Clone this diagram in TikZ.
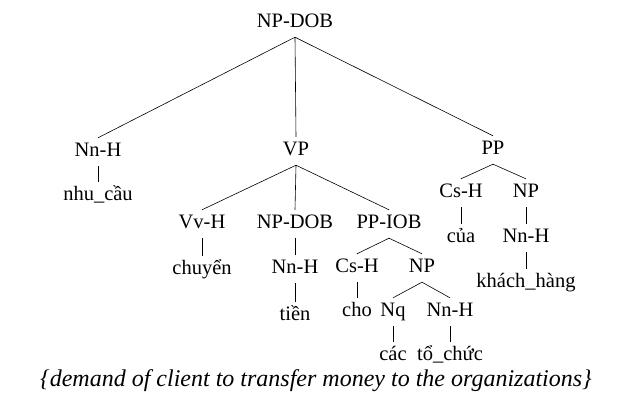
\documentclass[tikz,border=0pt]{standalone}
\usepackage{fontspec}
\setmainfont{Liberation Serif}
\begin{document}
\begin{tikzpicture}[x=1pt,y=-1pt,
  lbl/.style={anchor=base,text height=13pt,text depth=5pt,inner xsep=0pt,inner ysep=5pt,font=\fontsize{20.5}{24}\selectfont},
  edge/.style={draw=black,line width=0.6pt}]
\useasboundingbox (0,0) rectangle (625,394);
% level 0
\node[lbl] (root) at (295,27) {NP-DOB};
% level 1
\node[lbl] (nnh1) at (98,156) {Nn-H};
\node[lbl] (vp) at (296,155) {VP};
\node[lbl] (pp) at (493,154) {PP};
\node[lbl] (nhucau) at (98,200) {nhu\_cầu};
% VP children
\node[lbl] (vvh) at (202,228) {Vv-H};
\node[lbl] (npdob2) at (295,228) {NP-DOB};
\node[lbl] (ppiob) at (389,228) {PP-IOB};
\node[lbl] (chuyen) at (202,274) {chuyển};
\node[lbl] (nnh2) at (295,273) {Nn-H};
\node[lbl] (tien) at (295,320) {tiền};
\node[lbl] (csh2) at (357,272) {Cs-H};
\node[lbl] (np2) at (422,272) {NP};
\node[lbl] (cho) at (357,316) {cho};
\node[lbl] (nq) at (393,316) {Nq};
\node[lbl] (nnh3) at (450,316) {Nn-H};
\node[lbl] (cac) at (393,360) {các};
\node[lbl] (tochuc) at (450,360) {tổ\_chức};
% PP children
\node[lbl] (csh1) at (461,197) {Cs-H};
\node[lbl] (np1) at (526,197) {NP};
\node[lbl] (cua) at (461,242) {của};
\node[lbl] (nnh4) at (526,242) {Nn-H};
\node[lbl] (khachhang) at (526,287) {khách\_hàng};
% caption
\node[anchor=base,inner sep=0pt,font=\fontsize{24}{28}\selectfont\itshape] (cap) at (316,386) {\{demand of client to transfer money to the organizations\}};
% edges
\draw[edge] (root.south) -- (nnh1.north);
\draw[edge] (root.south) -- (vp.north);
\draw[edge] (root.south) -- (pp.north);
\draw[edge] (nnh1.south) -- (nhucau.north);
\draw[edge] (vp.south) -- (vvh.north);
\draw[edge] (vp.south) -- (npdob2.north);
\draw[edge] (vp.south) -- (ppiob.north);
\draw[edge] (vvh.south) -- (chuyen.north);
\draw[edge] (npdob2.south) -- (nnh2.north);
\draw[edge] (nnh2.south) -- (tien.north);
\draw[edge] (ppiob.south) -- (csh2.north);
\draw[edge] (ppiob.south) -- (np2.north);
\draw[edge] (csh2.south) -- (cho.north);
\draw[edge] (np2.south) -- (nq.north);
\draw[edge] (np2.south) -- (nnh3.north);
\draw[edge] (nq.south) -- (cac.north);
\draw[edge] (nnh3.south) -- (tochuc.north);
\draw[edge] (pp.south) -- (csh1.north);
\draw[edge] (pp.south) -- (np1.north);
\draw[edge] (csh1.south) -- (cua.north);
\draw[edge] (np1.south) -- (nnh4.north);
\draw[edge] (nnh4.south) -- (khachhang.north);
\end{tikzpicture}
\end{document}
